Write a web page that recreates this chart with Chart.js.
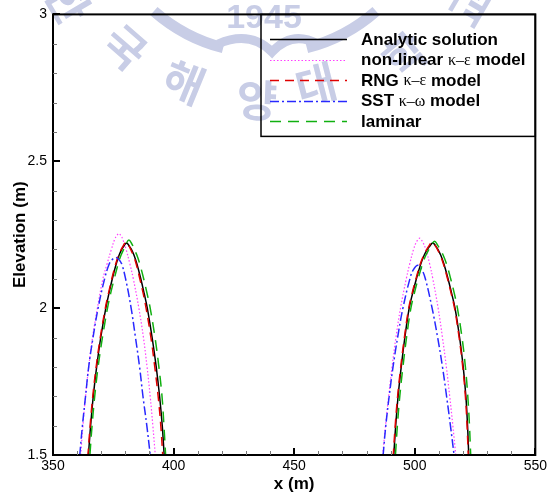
<!DOCTYPE html>
<html>
<head>
<meta charset="utf-8">
<script src="https://cdn.jsdelivr.net/npm/chart.js@4.4.0/dist/chart.umd.min.js"></script>
<style>
  html, body { margin: 0; padding: 0; background: #fff; }
</style>
</head>
<body>
<canvas id="chart-1" width="550" height="495"></canvas>
<script>
// free surface profiles, two crests; null splits the crests
var x_analytic = [364.2, 364.7, 365.6, 366.7, 368.1, 369.8, 371.9, 373.2, 374.6, 376.2, 377.4, 378.5, 379.3, 380.5, 381.7, 382.5, 383.6, 384.8, 386.4, 387.8, 389.1, 391.1, 392.8, 394.2, 395.3, 396.1, 396.6,
  450,
  490.8, 491.3, 492.1, 493.1, 494.4, 495.9, 497.7, 499.1, 500.7, 502.5, 503.9, 505.2, 506.1, 507.5, 508.8, 509.6, 510.8, 512.1, 513.8, 515.3, 516.7, 518.6, 520.1, 521.2, 521.9, 522.4, 522.8];
var y_analytic = [1.44, 1.5, 1.6, 1.7, 1.8, 1.9, 2.0, 2.05, 2.1, 2.15, 2.18, 2.2, 2.21, 2.222, 2.21, 2.2, 2.18, 2.15, 2.1, 2.05, 2.0, 1.9, 1.8, 1.7, 1.6, 1.5, 1.44,
  null,
  1.44, 1.5, 1.6, 1.7, 1.8, 1.9, 2.0, 2.05, 2.1, 2.15, 2.18, 2.2, 2.21, 2.222, 2.21, 2.2, 2.18, 2.15, 2.1, 2.05, 2.0, 1.9, 1.8, 1.7, 1.6, 1.5, 1.44];

var x_nonlinear = [361.0, 361.5, 362.4, 363.5, 364.8, 366.4, 368.4, 370.7, 372.4, 374.2, 375.6, 376.3, 377.3, 378.3, 378.9, 380.3, 381.9, 383.3, 385.6, 387.5, 389.0, 390.3, 391.4, 392.4, 392.9,
  450,
  486.0, 486.7, 487.9, 489.2, 490.6, 492.2, 494.1, 496.5, 497.9, 499.5, 500.7, 502.0, 503.3, 504.6, 506.2, 507.5, 509.7, 511.5, 513.1, 514.5, 515.8, 517.0, 517.6];
var y_nonlinear = [1.44, 1.5, 1.6, 1.7, 1.8, 1.9, 2.0, 2.1, 2.15, 2.2, 2.235, 2.245, 2.254, 2.245, 2.235, 2.2, 2.15, 2.1, 2.0, 1.9, 1.8, 1.7, 1.6, 1.5, 1.44,
  null,
  1.44, 1.5, 1.6, 1.7, 1.8, 1.9, 2.0, 2.1, 2.15, 2.2, 2.225, 2.238, 2.225, 2.2, 2.15, 2.1, 2.0, 1.9, 1.8, 1.7, 1.6, 1.5, 1.44];

var x_rng = [364.0, 364.5, 365.4, 366.5, 367.9, 369.6, 371.7, 373.0, 374.4, 376.0, 377.2, 378.3, 379.1, 380.3, 381.5, 382.2, 383.3, 384.5, 386.0, 387.4, 388.6, 390.6, 392.2, 393.6, 394.7, 395.5, 396.0,
  450,
  490.6, 491.1, 491.9, 492.9, 494.2, 495.7, 497.5, 498.9, 500.5, 502.3, 503.7, 505.0, 505.9, 507.3, 508.6, 509.4, 510.6, 511.9, 513.6, 515.1, 516.5, 518.4, 519.9, 521.0, 521.7, 522.2, 522.6];
var y_rng = [1.44, 1.5, 1.6, 1.7, 1.8, 1.9, 2.0, 2.05, 2.1, 2.15, 2.18, 2.2, 2.212, 2.225, 2.212, 2.2, 2.18, 2.15, 2.1, 2.05, 2.0, 1.9, 1.8, 1.7, 1.6, 1.5, 1.44,
  null,
  1.44, 1.5, 1.6, 1.7, 1.8, 1.9, 2.0, 2.05, 2.1, 2.15, 2.18, 2.2, 2.212, 2.225, 2.212, 2.2, 2.18, 2.15, 2.1, 2.05, 2.0, 1.9, 1.8, 1.7, 1.6, 1.5, 1.44];

var x_sst = [360.5, 361.1, 362.2, 363.5, 364.8, 366.6, 368.7, 371.4, 373.3, 374.5, 376.0, 377.4, 378.5, 380.1, 382.4, 384.2, 385.9, 387.3, 388.9, 390.3, 391.0,
  450,
  486.3, 486.9, 488.0, 489.4, 491.0, 492.9, 495.1, 498.0, 499.4, 501.3, 503.0, 504.4, 507.2, 509.5, 511.5, 513.2, 514.8, 516.3, 517.1];
var y_sst = [1.44, 1.5, 1.6, 1.7, 1.8, 1.9, 2.0, 2.1, 2.15, 2.165, 2.172, 2.165, 2.15, 2.1, 2.0, 1.9, 1.8, 1.7, 1.6, 1.5, 1.44,
  null,
  1.44, 1.5, 1.6, 1.7, 1.8, 1.9, 2.0, 2.1, 2.13, 2.146, 2.13, 2.1, 2.0, 1.9, 1.8, 1.7, 1.6, 1.5, 1.44];

var x_laminar = [364.8, 365.3, 366.2, 367.3, 368.7, 370.5, 372.6, 373.9, 375.4, 377.0, 378.2, 379.3, 380.1, 381.5, 382.9, 383.7, 384.8, 386.0, 387.6, 389.0, 390.3, 392.3, 393.9, 395.2, 396.0, 396.7, 397.2,
  450,
  491.5, 492.0, 492.8, 493.8, 495.1, 496.6, 498.4, 499.8, 501.4, 503.2, 504.6, 505.9, 506.8, 508.2, 509.6, 510.5, 511.8, 513.2, 514.9, 516.4, 517.7, 519.6, 521.0, 522.0, 522.7, 523.2, 523.6];
var y_laminar = [1.44, 1.5, 1.6, 1.7, 1.8, 1.9, 2.0, 2.05, 2.1, 2.15, 2.18, 2.2, 2.215, 2.232, 2.215, 2.2, 2.18, 2.15, 2.1, 2.05, 2.0, 1.9, 1.8, 1.7, 1.6, 1.5, 1.44,
  null,
  1.44, 1.5, 1.6, 1.7, 1.8, 1.9, 2.0, 2.05, 2.1, 2.15, 2.18, 2.2, 2.213, 2.228, 2.213, 2.2, 2.18, 2.15, 2.1, 2.05, 2.0, 1.9, 1.8, 1.7, 1.6, 1.5, 1.44];

var legend_labels = [
  [["Analytic solution", true]],
  [["non-linear ", true], ["\u03ba\u2013\u03b5", false], [" model", true]],
  [["RNG ", true], ["\u03ba\u2013\u03b5", false], [" model", true]],
  [["SST ", true], ["\u03ba\u2013\u03c9", false], [" model", true]],
  [["laminar", true]]
];
var x_ticks = [350, 400, 450, 500, 550];
var y_ticks = [1.5, 2, 2.5, 3];

var FONT = "Arial, 'Liberation Sans', sans-serif";

function points(xs, ys) {
  var out = [];
  for (let i = 0; i < xs.length; i++) {
    out.push({ x: xs[i], y: ys[i] });
  }
  return out;
}

var line_styles = [
  { color: "#000000", dash: [], width: 1.5 },
  { color: "#ff40ff", dash: [1.5, 2], width: 1.2 },
  { color: "#e00000", dash: [9, 6], width: 1.5 },
  { color: "#2828ff", dash: [9, 3, 2, 3], width: 1.5 },
  { color: "#10b010", dash: [11, 7], width: 1.5 }
];

// pale university seal sitting behind the plot
var sealPlugin = {
  id: "seal",
  beforeDraw(chart) {
    var ctx = chart.ctx;
    var cx = 265, cy = -115;
    ctx.save();
    ctx.fillStyle = "rgb(200, 205, 230)";
    ctx.strokeStyle = "rgb(200, 205, 230)";
    // inner ring, dipping into a wave under the year
    ctx.lineWidth = 11;
    ctx.beginPath();
    ctx.arc(cx, cy, 168, 0.27 * Math.PI, 0.42 * Math.PI);
    ctx.stroke();
    ctx.beginPath();
    ctx.arc(cx, cy, 168, 0.58 * Math.PI, 0.73 * Math.PI);
    ctx.stroke();
    ctx.lineWidth = 9;
    ctx.beginPath();
    ctx.moveTo(218, 44);
    ctx.quadraticCurveTo(250, 30, 272, 52);
    ctx.quadraticCurveTo(292, 30, 318, 44);
    ctx.stroke();
    ctx.font = "bold 34px " + FONT;
    ctx.textAlign = "center";
    ctx.textBaseline = "middle";
    ctx.fillText("1945", 264, 19);
    var chars = [["한", 68, 2], ["국", 125, 47], ["해", 184, 82], ["양", 257, 100], ["대", 316, 84], ["학", 405, 55], ["교", 470, 5]];
    ctx.font = "bold 44px 'Noto Sans CJK KR', sans-serif";
    chars.forEach(function (c) {
      ctx.save();
      ctx.translate(c[1], c[2]);
      ctx.rotate(-Math.atan2(c[1] - cx, c[2] - cy));
      ctx.fillText(c[0], 0, 0);
      ctx.restore();
    });
    ctx.restore();
  }
};

// frame, inward tick marks and the boxed legend
var framePlugin = {
  id: "frame",
  afterDatasetsDraw(chart) {
    var ctx = chart.ctx;
    var a = chart.chartArea;
    var xs = chart.scales.x, ys = chart.scales.y;
    ctx.save();
    ctx.strokeStyle = "#000";
    ctx.lineWidth = 2;
    ctx.strokeRect(a.left, a.top, a.right - a.left, a.bottom - a.top);

    // minor ticks
    ctx.strokeStyle = "#777";
    ctx.lineWidth = 1;
    ctx.beginPath();
    for (let v = 360; v < 550; v += 10) {
      if (v % 50 === 0) continue;
      var px = Math.round(xs.getPixelForValue(v)) + 0.5;
      ctx.moveTo(px, a.bottom);
      ctx.lineTo(px, a.bottom - 4);
    }
    for (let k = 16; k < 30; k++) {
      if (k % 5 === 0) continue;
      var py = Math.round(ys.getPixelForValue(k / 10)) + 0.5;
      ctx.moveTo(a.left, py);
      ctx.lineTo(a.left + 4, py);
    }
    ctx.stroke();

    // major ticks
    ctx.strokeStyle = "#000";
    ctx.lineWidth = 2;
    ctx.beginPath();
    x_ticks.forEach(function (v) {
      var px = Math.round(xs.getPixelForValue(v));
      ctx.moveTo(px, a.bottom);
      ctx.lineTo(px, a.bottom - 7);
    });
    y_ticks.forEach(function (v) {
      var py = Math.round(ys.getPixelForValue(v));
      ctx.moveTo(a.left, py);
      ctx.lineTo(a.left + 7, py);
    });
    ctx.stroke();

    // legend box
    var bx = 261, by = a.top, bw = a.right - 261, bh = 122;
    ctx.lineWidth = 1.5;
    ctx.strokeRect(bx, by, bw, bh);
    ctx.textBaseline = "middle";
    ctx.textAlign = "left";
    legend_labels.forEach(function (parts, i) {
      var y = 39 + i * 20.5;
      var st = line_styles[i];
      ctx.strokeStyle = st.color;
      ctx.lineWidth = st.width;
      ctx.setLineDash(st.dash);
      ctx.beginPath();
      ctx.moveTo(270, Math.round(y) + 0.5);
      ctx.lineTo(347, Math.round(y) + 0.5);
      ctx.stroke();
      ctx.setLineDash([]);
      var tx = 361;
      ctx.fillStyle = "#000";
      parts.forEach(function (p) {
        ctx.font = p[1] ? "bold 17px " + FONT : "16px 'Liberation Serif', 'DejaVu Serif', serif";
        ctx.fillText(p[0], tx, y + 1);
        tx += ctx.measureText(p[0]).width;
      });
    });
    ctx.restore();
  }
};

var series = [
  ["Analytic solution", x_analytic, y_analytic],
  ["non-linear k-e model", x_nonlinear, y_nonlinear],
  ["RNG k-e model", x_rng, y_rng],
  ["SST k-w model", x_sst, y_sst],
  ["laminar", x_laminar, y_laminar]
];

var datasets = series.map(function (s, i) {
  var st = line_styles[i];
  return {
    label: s[0],
    data: points(s[1], s[2]),
    borderColor: st.color,
    borderWidth: st.width,
    borderDash: st.dash,
    pointRadius: 0,
    showLine: true,
    fill: false,
    spanGaps: false,
    tension: 0.4,
    clip: 0
  };
});
// analytic line drawn on top
datasets.reverse();

const chart1 = document.getElementById("chart-1").getContext("2d");
const myChart = new Chart(chart1, {
  type: "line",
  data: { datasets: datasets },
  options: {
    responsive: false,
    animation: false,
    layout: { padding: { top: 14, right: 12, left: 0, bottom: 0 } },
    plugins: {
      legend: { display: false },
      tooltip: { enabled: false }
    },
    scales: {
      x: {
        type: "linear",
        min: 350,
        max: 550,
        afterFit: function (s) { s.height = 40; },
        afterBuildTicks: function (s) { s.ticks = x_ticks.map(function (v) { return { value: v }; }); },
        grid: { display: false, drawTicks: false },
        border: { display: false },
        ticks: { color: "#000", font: { family: FONT, size: 14 }, padding: 3, maxRotation: 0, autoSkip: false,
          callback: function (v) { return String(v); } },
        title: { display: true, text: "x (m)", color: "#000", font: { family: FONT, size: 17, weight: "bold" }, padding: { top: 0, bottom: 0 } }
      },
      y: {
        type: "linear",
        min: 1.5,
        max: 3,
        afterFit: function (s) { s.width = 53; },
        afterBuildTicks: function (s) { s.ticks = y_ticks.map(function (v) { return { value: v }; }); },
        grid: { display: false, drawTicks: false },
        border: { display: false },
        ticks: { color: "#000", font: { family: FONT, size: 14 }, padding: 6,
          callback: function (v) { return String(v); } },
        title: { display: true, text: "Elevation (m)", color: "#000", font: { family: FONT, size: 17, weight: "bold" }, padding: { top: 10, bottom: 0 } }
      }
    }
  },
  plugins: [sealPlugin, framePlugin]
});
</script>
</body>
</html>
